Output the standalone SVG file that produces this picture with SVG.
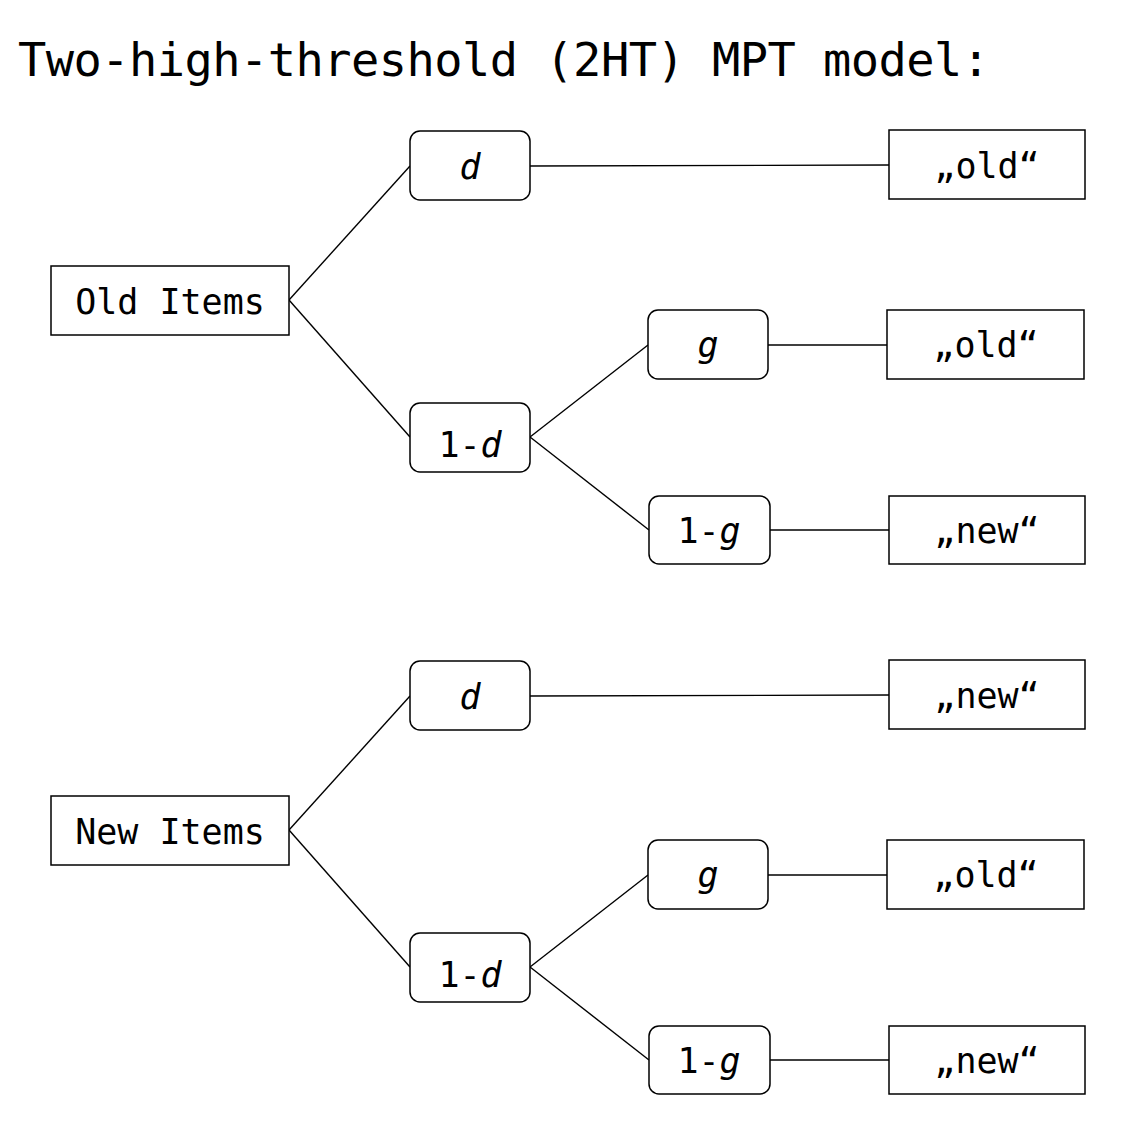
<svg xmlns="http://www.w3.org/2000/svg" width="1143" height="1132" viewBox="0 0 1143 1132">
<style>
  .box{fill:#fff;stroke:#000;stroke-width:1.5}
  .t{font-family:"DejaVu Sans Mono","Liberation Mono",monospace;font-size:35px;fill:#000;text-anchor:middle}
  .i{font-style:italic}
  .title{font-family:"DejaVu Sans Mono","Liberation Mono",monospace;font-size:47px;fill:#000}
  .c{stroke:#000;stroke-width:1.4;fill:none}
</style>
<rect width="1143" height="1132" fill="#fff"/>
<text class="title" x="18" y="76" textLength="972" lengthAdjust="spacing">Two-high-threshold (2HT) MPT model:</text>

<g id="connectors">
  <line class="c" x1="289" y1="300" x2="410" y2="166"/>
  <line class="c" x1="289" y1="300" x2="410" y2="437"/>
  <line class="c" x1="530" y1="166" x2="889" y2="165"/>
  <line class="c" x1="530" y1="437" x2="648" y2="345"/>
  <line class="c" x1="530" y1="437" x2="649" y2="530"/>
  <line class="c" x1="768" y1="345" x2="887" y2="345"/>
  <line class="c" x1="770" y1="530" x2="889" y2="530"/>

  <line class="c" x1="289" y1="830" x2="410" y2="696"/>
  <line class="c" x1="289" y1="830" x2="410" y2="967"/>
  <line class="c" x1="530" y1="696" x2="889" y2="695"/>
  <line class="c" x1="530" y1="967" x2="648" y2="875"/>
  <line class="c" x1="530" y1="967" x2="649" y2="1060"/>
  <line class="c" x1="768" y1="875" x2="887" y2="875"/>
  <line class="c" x1="770" y1="1060" x2="889" y2="1060"/>
</g>

<g id="old-items"><rect class="box" x="51" y="266" width="238" height="69"/><text class="t" x="170" y="314">Old Items</text></g>
<g id="old-d"><rect class="box" x="410" y="131" width="120" height="69" rx="10"/><text class="t i" x="470" y="179">d</text></g>
<g id="old-1-d"><rect class="box" x="410" y="403" width="120" height="69" rx="10"/><text class="t" x="470" y="457">1-<tspan class="i">d</tspan></text></g>
<g id="old-g"><rect class="box" x="648" y="310" width="120" height="69" rx="10"/><text class="t i" x="708" y="357">g</text></g>
<g id="old-1-g"><rect class="box" x="649" y="496" width="121" height="68" rx="10"/><text class="t" x="709" y="543">1-<tspan class="i">g</tspan></text></g>
<g id="old-r1"><rect class="box" x="889" y="130" width="196" height="69"/><text class="t" x="987" y="178">„old“</text></g>
<g id="old-r2"><rect class="box" x="887" y="310" width="197" height="69"/><text class="t" x="986" y="357">„old“</text></g>
<g id="old-r3"><rect class="box" x="889" y="496" width="196" height="68"/><text class="t" x="987" y="543">„new“</text></g>

<g id="new-items"><rect class="box" x="51" y="796" width="238" height="69"/><text class="t" x="170" y="844">New Items</text></g>
<g id="new-d"><rect class="box" x="410" y="661" width="120" height="69" rx="10"/><text class="t i" x="470" y="709">d</text></g>
<g id="new-1-d"><rect class="box" x="410" y="933" width="120" height="69" rx="10"/><text class="t" x="470" y="987">1-<tspan class="i">d</tspan></text></g>
<g id="new-g"><rect class="box" x="648" y="840" width="120" height="69" rx="10"/><text class="t i" x="708" y="887">g</text></g>
<g id="new-1-g"><rect class="box" x="649" y="1026" width="121" height="68" rx="10"/><text class="t" x="709" y="1073">1-<tspan class="i">g</tspan></text></g>
<g id="new-r1"><rect class="box" x="889" y="660" width="196" height="69"/><text class="t" x="987" y="708">„new“</text></g>
<g id="new-r2"><rect class="box" x="887" y="840" width="197" height="69"/><text class="t" x="986" y="887">„old“</text></g>
<g id="new-r3"><rect class="box" x="889" y="1026" width="196" height="68"/><text class="t" x="987" y="1073">„new“</text></g>
</svg>
